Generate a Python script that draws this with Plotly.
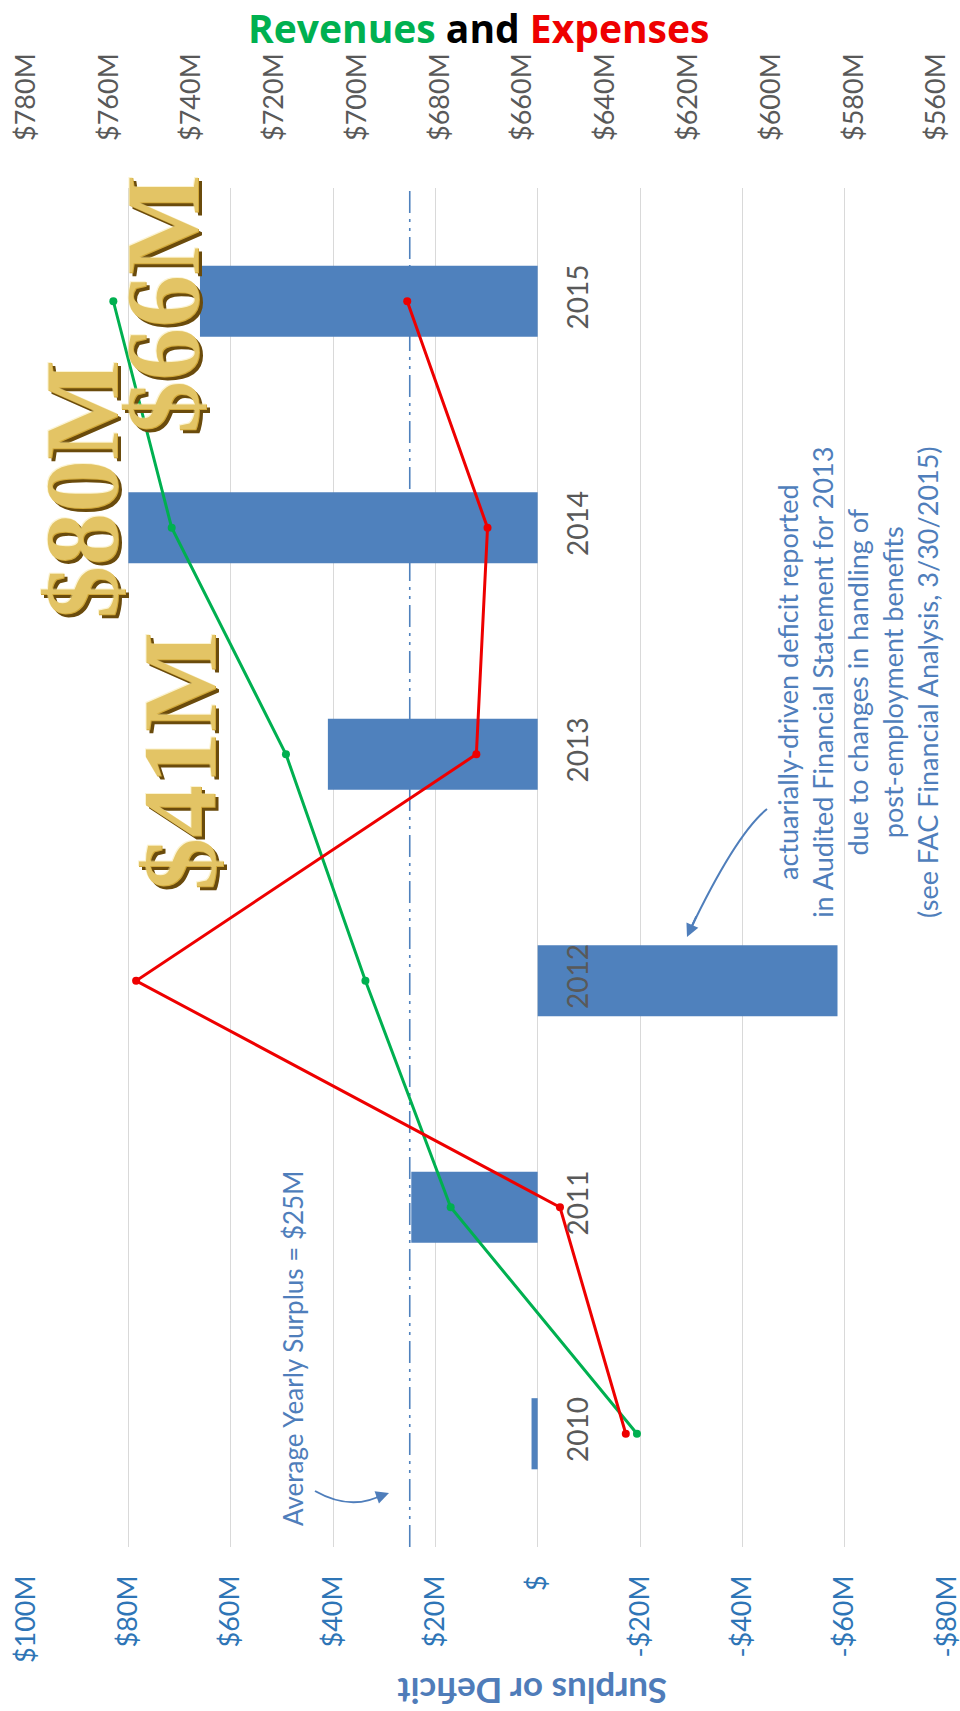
import plotly.graph_objects as go

# ---- data (millions of dollars) ----
years = ["2010", "2011", "2012", "2013", "2014", "2015"]
surplus_m = [1.2, 24.7, -58.6, 41.0, 80.0, 66.0]
revenues_m = [632.4, 677.4, 698.0, 717.2, 744.8, 758.9]
expenses_m = [635.1, 651.0, 753.4, 671.2, 668.5, 687.9]
avg_surplus_m = 25.0

surplus_ticks = [100, 80, 60, 40, 20, 0, -20, -40, -60, -80]
surplus_ticktext = ["$100M", "$80M", "$60M", "$40M", "$20M", "$",
                    "-$20M", "-$40M", "-$60M", "-$80M"]
revenue_ticks = [780, 760, 740, 720, 700, 680, 660, 640, 620, 600, 580, 560]
revenue_ticktext = ["$" + str(v) + "M" for v in revenue_ticks]

highlight_years = ["2015", "2014", "2013"]

note_lines = [
    "actuarially-driven deficit reported",
    "in Audited Financial Statement for 2013",
    "due to changes in handling of",
    "post-employment benefits",
    "(see FAC Financial Analysis, 3/30/2015)",
]

# ---- page geometry ----
W, H = 960, 1711
ML, MR, MT, MB = 26, 13, 188, 164
PW, PH = W - ML - MR, H - MT - MB


def px(x):
    return (x - ML) / PW


def py(y):
    return 1 - (y - MT) / PH


surplus_range = [100, -80]
revenue_range = [780, 557.5]
zero_pos = (surplus_range[0] - 0) / (surplus_range[0] - surplus_range[1])

BLUE_BAR = "#4F81BD"
NOTE_BLUE = "#4F7EBB"
GREEN = "#00B050"
RED = "#EE0000"
GREY_TXT = "#595959"
FONT = "Lato"

fig = go.Figure()

fig.add_trace(go.Bar(
    y=years, x=surplus_m, orientation="h",
    marker=dict(color=BLUE_BAR, line=dict(width=0)),
    xaxis="x", yaxis="y", showlegend=False, hoverinfo="x+y",
))

fig.add_trace(go.Scatter(
    y=years, x=revenues_m, mode="lines+markers",
    line=dict(color=GREEN, width=3), marker=dict(color=GREEN, size=8),
    xaxis="x2", yaxis="y", showlegend=False,
))
fig.add_trace(go.Scatter(
    y=years, x=expenses_m, mode="lines+markers",
    line=dict(color=RED, width=3), marker=dict(color=RED, size=8),
    xaxis="x2", yaxis="y", showlegend=False,
))

shapes = [
    # average surplus reference line
    dict(type="line", xref="x", yref="paper", x0=avg_surplus_m, x1=avg_surplus_m,
         y0=0, y1=1, layer="between",
         line=dict(color=BLUE_BAR, width=1.6, dash="22px,6px,3px,6px,3px,6px")),
    # curved pointer to the average line
    dict(type="path", xref="paper", yref="paper", layer="above",
         path=f"M {px(315)} {py(1491)} Q {px(352)} {py(1512)} {px(384)} {py(1494)}",
         line=dict(color=NOTE_BLUE, width=2)),
    # curved pointer to the 2012 bar
    dict(type="path", xref="paper", yref="paper", layer="above",
         path=f"M {px(767)} {py(809)} Q {px(736)} {py(834)} {px(690)} {py(930)}",
         line=dict(color=NOTE_BLUE, width=2)),
]

annotations = [
    dict(xref="paper", yref="paper", x=px(478), y=py(28),
         xanchor="center", yanchor="middle", showarrow=False,
         text=f"<b><span style='color:{GREEN}'>Revenues</span> and "
              f"<span style='color:{RED}'>Expenses</span></b>",
         font=dict(family="Open Sans", size=39, color="black")),
    dict(xref="paper", yref="paper", x=px(533), y=py(1692),
         xanchor="center", yanchor="middle", showarrow=False, textangle=180,
         text="<b>Surplus or Deficit</b>",
         font=dict(family=FONT, size=35, color="#4F7CB9")),
    dict(xref="paper", yref="paper", x=px(293), y=py(1349),
         xanchor="center", yanchor="middle", showarrow=False, textangle=-90,
         text=f"Average Yearly Surplus = ${avg_surplus_m:.0f}M",
         font=dict(family=FONT, size=26, color=NOTE_BLUE)),
    dict(xref="paper", yref="paper", x=px(858), y=py(682),
         xanchor="center", yanchor="middle", showarrow=False, textangle=-90,
         align="center", text="<br>".join(note_lines),
         font=dict(family=FONT, size=27, color=NOTE_BLUE)),
    # arrowheads
    dict(xref="paper", yref="paper", x=px(389), y=py(1493), ax=-14, ay=5,
         showarrow=True, text="", arrowhead=2, arrowsize=1.3, arrowwidth=2,
         arrowcolor=NOTE_BLUE),
    dict(xref="paper", yref="paper", x=px(687), y=py(937), ax=10, ay=-22,
         showarrow=True, text="", arrowhead=2, arrowsize=1.3, arrowwidth=2,
         arrowcolor=NOTE_BLUE),
]

# gold call-outs for the three surplus years
gold_centres = {"2015": (163, 305), "2014": (82, 490), "2013": (180, 762)}
gold_layers = [(3, 3, "#6A4B0C", 1.0), (0, 0, "#D2A93A", 1.0), (-1, -1, "#F8E69A", 0.45)]
for yr in highlight_years:
    val = surplus_m[years.index(yr)]
    label = f"<b>${val:.0f}M</b>"
    cx, cy = gold_centres[yr]
    for dx, dy, col, op in gold_layers:
        annotations.append(dict(
            xref="paper", yref="paper", x=px(cx), y=py(cy), xshift=dx, yshift=-dy,
            xanchor="center", yanchor="middle", showarrow=False, textangle=-90,
            text=label, font=dict(family="Liberation Serif", size=106, color=col),
            opacity=op,
        ))

fig.update_layout(
    width=W, height=H,
    margin=dict(l=ML, r=MR, t=MT, b=MB, pad=0, autoexpand=False),
    paper_bgcolor="white", plot_bgcolor="white",
    font=dict(family=FONT),
    bargap=0.686,
    showlegend=False,
    xaxis=dict(
        range=surplus_range, tickvals=surplus_ticks, ticktext=surplus_ticktext,
        tickangle=-90, showgrid=True, gridcolor="#D9D9D9", gridwidth=1.3,
        zeroline=False, showline=False, ticks="", ticklabelstandoff=22,
        ticklabeloverflow="allow", automargin=False,
        tickfont=dict(family=FONT, size=27, color="#2E75B6"),
    ),
    xaxis2=dict(
        range=revenue_range, tickvals=revenue_ticks, ticktext=revenue_ticktext,
        overlaying="x", side="top", anchor="y", tickangle=-90, showgrid=False,
        zeroline=False, showline=False, ticks="", ticklabelstandoff=46,
        ticklabeloverflow="allow", automargin=False,
        tickfont=dict(family=FONT, size=27, color=GREY_TXT),
    ),
    yaxis=dict(
        type="category", categoryorder="array", categoryarray=years,
        anchor="free", position=zero_pos, side="right",
        tickangle=-90, showgrid=False, zeroline=False, showline=False,
        ticks="", ticklabelstandoff=21, automargin=False,
        tickfont=dict(family=FONT, size=28, color=GREY_TXT),
    ),
    shapes=shapes,
    annotations=annotations,
)

fig.write_html("out.html")
